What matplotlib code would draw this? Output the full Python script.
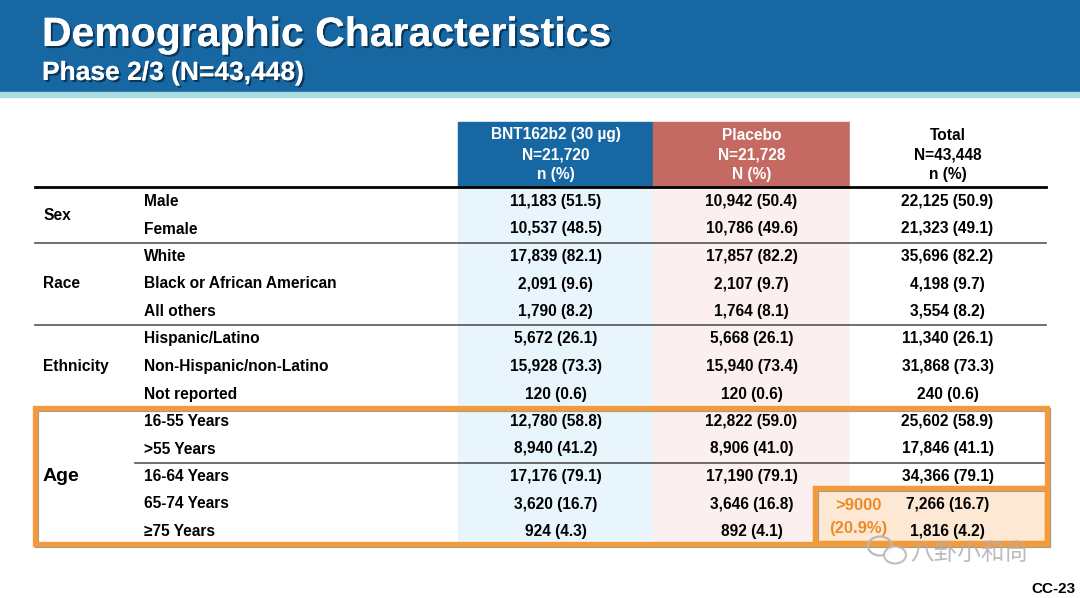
import matplotlib.pyplot as plt
import matplotlib.patches as mpatches
import matplotlib.patheffects as pe

# Table content
groups = ["Sex", "Race", "Ethnicity", "Age"]
group_sizes = [2, 3, 3, 5]
sub_labels = ["Male", "Female",
              "White", "Black or African American", "All others",
              "Hispanic/Latino", "Non-Hispanic/non-Latino", "Not reported",
              "16-55 Years", ">55 Years", "16-64 Years", "65-74 Years", "\u226575 Years"]
bnt_n = [11183, 10537, 17839, 2091, 1790, 5672, 15928, 120, 12780, 8940, 17176, 3620, 924]
bnt_pct = [51.5, 48.5, 82.1, 9.6, 8.2, 26.1, 73.3, 0.6, 58.8, 41.2, 79.1, 16.7, 4.3]
pbo_n = [10942, 10786, 17857, 2107, 1764, 5668, 15940, 120, 12822, 8906, 17190, 3646, 892]
pbo_pct = [50.4, 49.6, 82.2, 9.7, 8.1, 26.1, 73.4, 0.6, 59.0, 41.0, 79.1, 16.8, 4.1]
tot_n = [22125, 21323, 35696, 4198, 3554, 11340, 31868, 240, 25602, 17846, 34366, 7266, 1816]
tot_pct = [50.9, 49.1, 82.2, 9.7, 8.2, 26.1, 73.3, 0.6, 58.9, 41.1, 79.1, 16.7, 4.2]
col_heads = [["BNT162b2 (30 \u00b5g)", "N=21,720", "n (%)"],
             ["Placebo", "N=21,728", "N (%)"],
             ["Total", "N=43,448", "n (%)"]]
callout = [">9000", "(20.9%)"]

plt.rcParams["font.family"] = ["Liberation Sans", "DejaVu Sans"]

fig = plt.figure(figsize=(10.8, 5.98), dpi=100)
ax = fig.add_axes([0, 0, 1, 1])
ax.set_xlim(0, 1080)
ax.set_ylim(598, 0)
ax.axis("off")

blue = "#1767a3"
red = "#c46a63"
orange = "#f39a3a"

# banner
ax.add_patch(mpatches.Rectangle((0, 0), 1080, 92, color=blue, zorder=0))
ax.add_patch(mpatches.Rectangle((0, 92), 1080, 5, color="#a9dde0", zorder=0))
shadow = [pe.withSimplePatchShadow(offset=(1.5, -1.5), shadow_rgbFace="#0a2a45", alpha=0.8), pe.Normal()]
ax.text(42, 35, "Demographic Characteristics", color="white", fontsize=29.5, fontweight="bold",
        va="center", ha="left", path_effects=shadow)
ax.text(42, 73, "Phase 2/3 (N=43,448)", color="white", fontsize=19, fontweight="bold",
        va="center", ha="left", path_effects=shadow)

# column geometry
col_x = [458, 653, 850, 1045]
col_fill = [blue, red, "white"]
col_body = ["#e9f5fc", "#fbefef", "white"]
head_top, head_bot, body_bot = 122, 187, 545
for i in range(3):
    ax.add_patch(mpatches.Rectangle((col_x[i], head_top), col_x[i + 1] - col_x[i], head_bot - head_top,
                                    color=col_fill[i], zorder=1))
    ax.add_patch(mpatches.Rectangle((col_x[i], head_bot), col_x[i + 1] - col_x[i], body_bot - head_bot,
                                    color=col_body[i], zorder=1))
    cx = (col_x[i] + col_x[i + 1]) / 2
    tc = "black" if i == 2 else "white"
    for j, line in enumerate(col_heads[i]):
        ax.text(cx, 135 + j * 19.5, line, color=tc, fontsize=11.2, fontweight="bold",
                ha="center", va="center", zorder=3)

ax.plot([35, 1046], [187, 187], color="black", lw=2, zorder=3)

# rows
row_y0, row_step = 201.5, 27.5
cols = [(bnt_n, bnt_pct), (pbo_n, pbo_pct), (tot_n, tot_pct)]
for r, lab in enumerate(sub_labels):
    y = row_y0 + r * row_step
    ax.text(144, y, lab, fontsize=11.2, fontweight="bold", ha="left", va="center", zorder=3)
    for i, (ns, ps) in enumerate(cols):
        cx = (col_x[i] + col_x[i + 1]) / 2
        ax.text(cx, y, f"{ns[r]:,} ({ps[r]:.1f})", fontsize=11.2, fontweight="bold",
                ha="center", va="center", zorder=3)

start = 0
for g, size in zip(groups, group_sizes):
    yc = row_y0 + (start + (size - 1) / 2) * row_step
    fs = 14 if g == "Age" else 11.2
    ax.text(43, yc, g, fontsize=fs, fontweight="bold", ha="left", va="center", zorder=3)
    start += size
    if start < len(sub_labels):
        ysep = row_y0 + (start - 0.5) * row_step
        ax.plot([35, 1046], [ysep, ysep], color="#555555", lw=1.2, zorder=3)
# split within age group
ysep = row_y0 + 9.5 * row_step
ax.plot([135, 1046], [ysep, ysep], color="#555555", lw=1.2, zorder=3)

# highlight boxes
ax.add_patch(mpatches.Rectangle((37, 410), 1012, 136, fill=False, ec="#9a9a9a", lw=3, zorder=4))
ax.add_patch(mpatches.Rectangle((35, 408), 1012, 136, fill=False, ec=orange, lw=3.8, zorder=5))
ax.add_patch(mpatches.Rectangle((817, 490), 232, 55, fill=False, ec="#9a9a9a", lw=3, zorder=4))
ax.add_patch(mpatches.Rectangle((815, 488), 232, 55, fc="#fde8d4", ec=orange, lw=3.8, zorder=2))
ax.add_patch(mpatches.Rectangle((815, 488), 232, 55, fill=False, ec=orange, lw=3.8, zorder=5))
for j, t in enumerate(callout):
    ax.text(858, 506 + j * 22, t, color="#ee8a2a", fontsize=12, fontweight="bold",
            ha="center", va="center", zorder=6)

# watermark
ax.text(910, 553, "\u516b\u5366\u5c0f\u548c\u5c1a", color="#b0b0b0", alpha=0.85, fontsize=17,
        family=["Noto Sans CJK SC", "DejaVu Sans"], ha="left", va="center", zorder=6)
ax.add_patch(mpatches.Ellipse((880, 546), 24, 19, fill=False, ec="#b8b8b8", lw=1.5, zorder=6))
ax.add_patch(mpatches.Ellipse((895, 555), 22, 17, fc="white", ec="#b8b8b8", lw=1.5, alpha=0.9, zorder=6))

ax.text(1076, 589, "CC-23", fontsize=11, fontweight="bold", ha="right", va="center")

fig.savefig("out.png", dpi=100)
